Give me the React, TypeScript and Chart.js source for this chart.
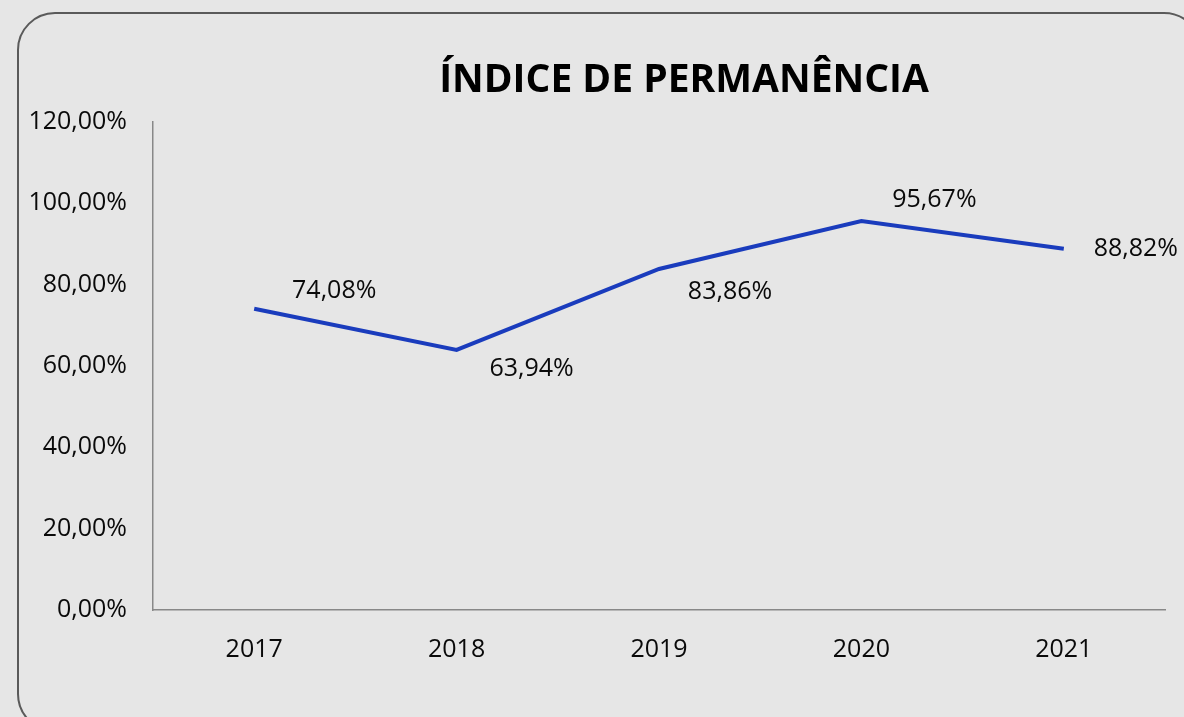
import React, { useEffect, useRef } from "react";
import { Chart, registerables } from "chart.js";

Chart.register(...registerables);

const TITLE = "ÍNDICE DE PERMANÊNCIA";
const YEARS = ["2017", "2018", "2019", "2020", "2021"];
const VALUES = [74.08, 63.94, 83.86, 95.67, 88.82];
const Y_MIN = 0;
const Y_MAX = 120;
const Y_STEP = 20;

const FONT = "'Open Sans', sans-serif";
const LABEL_OFFSETS = [
  [80, -18],
  [75, 19],
  [71, 23],
  [73, -21],
  [72, 0],
];

const fmt = (v: number) => v.toFixed(2).replace(".", ",") + "%";

const overlayPlugin = {
  id: "overlay",
  afterDatasetsDraw(chart: any) {
    const ctx = chart.ctx;
    const meta = chart.getDatasetMeta(0);
    ctx.save();
    ctx.fillStyle = "#0a0a0a";
    ctx.font = `25px ${FONT}`;
    ctx.textAlign = "center";
    ctx.textBaseline = "middle";
    meta.data.forEach((pt: any, i: number) => {
      const [dx, dy] = LABEL_OFFSETS[i];
      ctx.fillText(fmt(VALUES[i]), pt.x + dx, pt.y + dy);
    });
    ctx.font = `bold 39px ${FONT}`;
    ctx.fillStyle = "#000";
    const ca = chart.chartArea;
    ctx.fillText(TITLE, (ca.left + ca.right) / 2 + 25, 81);
    ctx.restore();
  },
};

export default function App() {
  const ref = useRef<HTMLCanvasElement>(null);
  useEffect(() => {
    if (!ref.current) return;
    const chart = new Chart(ref.current, {
      type: "line",
      data: {
        labels: YEARS,
        datasets: [
          {
            data: VALUES,
            borderColor: "#1a3cbd",
            borderWidth: 4,
            pointRadius: 0,
            tension: 0,
            fill: false,
          },
        ],
      },
      options: {
        animation: false,
        responsive: false,
        maintainAspectRatio: false,
        layout: { padding: { top: 122, right: 19, left: 0, bottom: 0 } },
        plugins: {
          legend: { display: false },
          tooltip: { enabled: false },
          title: { display: false },
        },
        scales: {
          x: {
            type: "category",
            offset: true,
            grid: { display: false, drawTicks: false },
            border: { display: true, color: "#888", width: 1.5 },
            ticks: { color: "#0a0a0a", font: { family: FONT, size: 25 }, padding: 25 },
            afterFit: (s: any) => {
              s.height = 107;
            },
          },
          y: {
            min: Y_MIN,
            max: Y_MAX,
            grid: { display: false, drawTicks: false },
            border: { display: true, color: "#888", width: 1.5 },
            ticks: {
              stepSize: Y_STEP,
              color: "#0a0a0a",
              font: { family: FONT, size: 25 },
              padding: 26,
              callback: (v: any) => fmt(Number(v)),
            },
            afterFit: (s: any) => {
              s.width = 153;
            },
          },
        },
      },
      plugins: [overlayPlugin],
    });
    return () => chart.destroy();
  }, []);
  return (
    <div
      style={{
        position: "fixed",
        left: 0,
        top: 0,
        width: 1184,
        height: 717,
        background: "#e6e6e6",
        overflow: "hidden",
      }}
    >
      <div
        style={{
          position: "absolute",
          left: 17,
          top: 12,
          width: 1185,
          height: 720,
          border: "2px solid #5a5a5a",
          borderRadius: 38,
          boxSizing: "border-box",
        }}
      />
      <canvas ref={ref} width={1184} height={717} style={{ position: "absolute", left: 0, top: 0 }} />
    </div>
  );
}
